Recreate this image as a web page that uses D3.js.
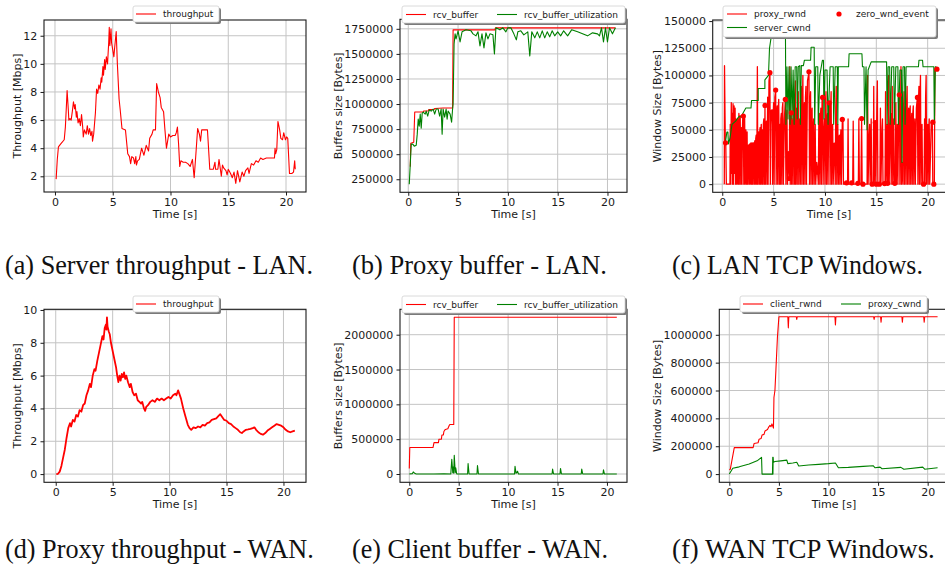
<!DOCTYPE html>
<html>
<head>
<meta charset="utf-8">
<script src="https://cdn.jsdelivr.net/npm/d3@7"></script>
<style>
  body { margin: 0; background: #fff; }
  svg { display: block; }
</style>
</head>
<body>
<svg id="fig" width="945" height="569"></svg>
<script>
// ---------- data (time in seconds) ----------
const timeTicks = [0, 5, 10, 15, 20];
const lanThroughputTicks = [2, 4, 6, 8, 10, 12];
const lanBufferTicks = [250000, 500000, 750000, 1000000, 1250000, 1500000, 1750000];
const lanWindowTicks = [0, 25000, 50000, 75000, 100000, 125000, 150000];
const wanThroughputTicks = [0, 2, 4, 6, 8, 10];
const wanBufferTicks = [0, 500000, 1000000, 1500000, 2000000];
const wanWindowTicks = [0, 200000, 400000, 600000, 800000, 1000000];

// (a) server throughput on the LAN [Mbps]
const lanThroughput = [[0.1,1.8],[0.2,3.2],[0.3,4.1],[0.5,4.3],[0.8,4.6],[0.9,5.5],[1.0,7.2],[1.05,8.1],[1.15,6.8],[1.2,6.0],[1.3,6.1],[1.4,6.0],[1.5,6.6],[1.6,7.3],[1.7,6.8],[1.75,7.1],[1.85,6.2],[1.9,6.6],[2.0,5.8],[2.1,6.1],[2.2,5.6],[2.3,6.4],[2.4,5.5],[2.45,4.8],[2.55,5.3],[2.7,5.0],[2.8,5.6],[2.9,5.0],[3.0,5.4],[3.1,4.9],[3.2,5.2],[3.25,4.5],[3.35,5.0],[3.5,6.5],[3.6,8.2],[3.7,7.9],[3.8,8.5],[3.9,8.2],[4.0,9.0],[4.05,8.7],[4.15,9.8],[4.2,9.2],[4.3,10.3],[4.35,9.6],[4.45,10.5],[4.55,10.0],[4.65,11.5],[4.7,12.6],[4.75,11.3],[4.85,12.5],[4.9,11.5],[5.0,11.0],[5.1,10.5],[5.15,11.0],[5.3,12.3],[5.4,10.0],[5.55,7.5],[5.65,6.7],[5.8,5.4],[6.1,5.3],[6.3,3.6],[6.45,3.4],[6.55,2.9],[6.65,3.4],[6.8,3.3],[6.9,2.9],[7.0,3.4],[7.05,2.8],[7.15,3.1],[7.3,3.2],[7.5,4.0],[7.7,3.5],[7.9,4.2],[8.1,3.8],[8.2,4.7],[8.4,5.0],[8.5,5.3],[8.7,5.3],[8.8,8.6],[8.95,8.0],[9.1,7.6],[9.2,6.9],[9.4,6.6],[9.5,5.5],[9.65,4.0],[9.85,5.0],[10.0,4.8],[10.2,4.9],[10.4,4.9],[10.5,5.1],[10.6,5.5],[10.7,4.3],[10.8,2.7],[10.9,3.1],[11.1,3.0],[11.3,3.0],[11.5,2.9],[11.7,2.7],[11.9,3.2],[12.05,1.9],[12.2,3.6],[12.35,5.4],[12.5,5.0],[12.6,4.5],[12.7,5.3],[13.2,5.3],[13.4,2.5],[13.7,2.5],[13.85,3.0],[13.9,2.5],[14.1,2.5],[14.2,3.2],[14.4,2.0],[14.5,2.8],[14.6,2.6],[14.8,2.4],[14.9,2.1],[15.0,2.5],[15.2,2.2],[15.35,1.9],[15.5,2.3],[15.65,1.5],[15.8,2.4],[16.0,1.6],[16.2,2.3],[16.35,2.0],[16.5,2.4],[16.7,2.6],[16.8,2.2],[17.0,2.9],[17.2,2.8],[17.4,3.1],[17.6,3.0],[17.8,3.3],[18.0,3.2],[18.3,3.3],[18.6,3.3],[19.0,3.3],[19.05,4.0],[19.1,3.6],[19.2,3.9],[19.3,5.9],[19.45,5.3],[19.55,4.7],[19.7,4.6],[19.8,5.1],[19.95,4.6],[20.05,4.8],[20.15,4.7],[20.3,2.2],[20.5,2.2],[20.65,2.3],[20.75,3.1],[20.8,2.5]];

// (b) proxy receive buffer on the LAN [Bytes]
const lanRcvBuffer = [[0.15,380000],[0.2,380000],[0.25,610000],[0.55,620000],[0.65,920000],[1.5,920000],[1.55,930000],[2.0,930000],[2.05,945000],[2.6,945000],[2.65,955000],[3.5,960000],[4.45,960000],[4.5,1740000],[8.7,1740000],[8.75,1760000],[20.8,1760000]];
const lanRcvUtilization = [[0.1,200000],[0.3,600000],[0.45,600000],[0.6,580000],[0.8,590000],[0.9,700000],[1.0,850000],[1.1,780000],[1.2,900000],[1.3,760000],[1.4,910000],[1.5,920000],[1.7,900000],[1.8,930000],[1.95,880000],[2.1,940000],[2.3,930000],[2.5,950000],[2.65,900000],[2.8,950000],[3.0,950000],[3.15,880000],[3.3,950000],[3.4,700000],[3.5,950000],[3.65,870000],[3.8,950000],[3.9,850000],[4.0,930000],[4.2,900000],[4.35,820000],[4.45,950000],[4.5,1000000],[4.6,1600000],[4.7,1700000],[4.8,1650000],[5.0,1730000],[5.2,1620000],[5.4,1720000],[5.8,1740000],[6.3,1730000],[6.5,1700000],[6.8,1680000],[7.0,1720000],[7.2,1580000],[7.4,1700000],[7.6,1560000],[7.8,1710000],[8.0,1650000],[8.2,1700000],[8.5,1690000],[8.65,1500000],[8.8,1760000],[9.2,1740000],[9.5,1760000],[9.8,1720000],[10.0,1760000],[10.3,1760000],[10.6,1700000],[10.85,1640000],[11.0,1720000],[11.3,1730000],[11.6,1690000],[12.0,1720000],[12.2,1480000],[12.4,1720000],[12.7,1660000],[12.95,1720000],[13.2,1660000],[13.45,1730000],[13.7,1660000],[13.95,1720000],[14.2,1670000],[14.45,1730000],[14.7,1680000],[15.0,1720000],[15.3,1680000],[15.6,1730000],[16.0,1680000],[16.4,1740000],[17.0,1720000],[17.5,1700000],[18.0,1680000],[18.5,1710000],[19.0,1700000],[19.2,1680000],[19.4,1760000],[19.6,1620000],[19.8,1760000],[20.0,1620000],[20.2,1760000],[20.5,1700000],[20.8,1760000]];

// (c) LAN TCP windows [Bytes]
const lanProxyRwnd = [[0.2,0],[0.22,109000],[0.25,80000],[0.3,38000],[0.34,38000],[0.4,0],[0.75,0],[0.78,55000],[0.82,0],[0.88,75000],[0.92,10000],[0.97,65000],[1.0,0],[1.05,74000],[1.1,0],[1.15,72000],[1.2,10000],[1.25,70000],[1.3,0],[1.34,60000],[1.38,55000],[1.42,0],[1.46,58000],[1.5,60000],[1.55,0],[1.58,50000],[1.62,65000],[1.66,0],[1.7,55000],[1.75,63000],[1.8,0],[1.84,45000],[1.88,52000],[1.92,0],[1.96,50000],[2.0,62000],[2.05,62000],[2.1,0],[2.14,55000],[2.18,63000],[2.22,0],[2.26,45000],[2.3,50000],[2.35,0],[2.38,40000],[2.42,48000],[2.46,0],[2.5,35000],[2.55,36000],[2.6,0],[2.64,36000],[2.68,37000],[2.72,0],[2.76,37000],[2.8,38000],[2.85,0],[2.88,36000],[2.92,38000],[2.96,0],[3.0,37000],[3.05,38000],[3.1,0],[3.14,38000],[3.18,40000],[3.22,0],[3.26,42000],[3.3,45000],[3.35,0],[3.42,108000],[3.46,0],[3.5,45000],[3.55,48000],[3.6,0],[3.64,47000],[3.68,52000],[3.72,0],[3.76,50000],[3.8,55000],[3.85,0],[3.88,45000],[3.92,50000],[3.96,0],[4.0,55000],[4.05,60000],[4.1,0],[4.16,72000],[4.2,0],[4.25,50000],[4.3,58000],[4.35,0],[4.42,80000],[4.46,0],[4.55,95000],[4.64,102000],[4.68,0],[4.73,55000],[4.78,66000],[4.87,66000],[4.9,0],[4.95,60000],[5.0,75000],[5.05,0],[5.12,80000],[5.2,86000],[5.25,0],[5.3,65000],[5.35,72000],[5.4,0],[5.45,70000],[5.5,78000],[5.55,0],[5.62,55000],[5.66,0],[5.7,60000],[5.75,65000],[5.8,0],[5.85,70000],[5.9,75000],[5.95,0],[6.05,60000],[6.14,78000],[6.2,0],[6.25,60000],[6.3,68000],[6.35,0],[6.45,30000],[6.53,5000],[6.58,108000],[6.62,0],[6.72,66000],[6.76,0],[6.8,60000],[6.85,55000],[6.9,0],[6.95,70000],[7.0,80000],[7.05,0],[7.12,95000],[7.16,0],[7.2,60000],[7.25,70000],[7.3,0],[7.35,75000],[7.4,85000],[7.45,0],[7.5,55000],[7.55,60000],[7.6,0],[7.65,80000],[7.7,90000],[7.75,0],[7.8,70000],[7.85,100000],[7.9,0],[7.95,65000],[8.0,75000],[8.05,0],[8.1,80000],[8.15,90000],[8.2,0],[8.3,95000],[8.44,103000],[8.5,0],[8.55,75000],[8.6,85000],[8.65,0],[8.7,60000],[8.75,70000],[8.8,0],[8.85,50000],[8.9,60000],[8.95,0],[9.05,55000],[9.1,0],[9.2,20000],[9.29,11000],[9.35,0],[9.4,55000],[9.45,65000],[9.5,0],[9.55,60000],[9.6,70000],[9.65,0],[9.72,80000],[9.77,80000],[9.82,0],[9.9,50000],[9.95,60000],[10.0,0],[10.05,75000],[10.1,85000],[10.15,0],[10.2,55000],[10.25,65000],[10.3,0],[10.38,74800],[10.45,74800],[10.5,0],[10.55,70000],[10.6,85000],[10.65,0],[10.7,45000],[10.75,55000],[10.8,0],[10.9,36000],[10.95,36000],[11.0,0],[11.05,70000],[11.1,90000],[11.15,0],[11.2,45000],[11.25,55000],[11.3,0],[11.35,40000],[11.4,45000],[11.45,0],[11.5,40000],[11.55,50000],[11.6,0],[11.69,59500],[11.75,59500],[11.8,0],[12.2,0],[12.25,60000],[12.3,0],[12.7,0],[12.75,58000],[12.8,0],[13.25,0],[13.3,60000],[13.35,0],[13.5,0],[13.57,60400],[13.62,0],[14.1,0],[14.15,100000],[14.2,0],[14.3,45000],[14.35,55000],[14.4,0],[14.5,60000],[14.55,0],[14.7,0],[14.75,90000],[14.8,0],[14.9,56700],[14.95,0],[15.05,70000],[15.1,95000],[15.15,0],[15.35,0],[15.4,70000],[15.45,0],[15.55,50000],[15.6,60000],[15.65,0],[15.85,0],[15.9,85000],[15.95,0],[16.05,55000],[16.1,0],[16.15,0],[16.2,100000],[16.25,0],[16.35,55000],[16.4,65000],[16.45,0],[16.55,90000],[16.6,0],[16.7,60000],[16.75,0],[16.85,0],[16.9,75000],[16.95,0],[17.05,55000],[17.1,0],[17.2,82000],[17.25,82000],[17.3,0],[17.4,108000],[17.45,0],[17.55,20000],[17.6,0],[17.65,70000],[17.7,85000],[17.75,0],[17.8,60000],[17.85,72000],[17.9,0],[17.95,75000],[18.0,90000],[18.05,0],[18.1,60000],[18.15,70000],[18.2,0],[18.25,65000],[18.3,72000],[18.35,0],[18.4,55000],[18.45,65000],[18.5,0],[18.55,65000],[18.6,72000],[18.65,0],[18.7,50000],[18.75,60000],[18.8,0],[18.9,70000],[19.0,79800],[19.05,0],[19.1,75000],[19.15,90000],[19.2,0],[19.25,80000],[19.3,100000],[19.35,0],[19.4,45000],[19.45,55000],[19.5,0],[19.65,0],[19.7,60000],[19.75,0],[19.8,80000],[19.85,100000],[19.9,0],[19.95,45000],[20.0,55000],[20.05,0],[20.1,50000],[20.15,60000],[20.2,0],[20.35,57000],[20.45,57000],[20.5,0],[20.65,0],[20.7,106000],[20.85,106000]];
const lanServerCwnd = [[0.3,38000],[0.45,48000],[0.55,48000],[0.6,37000],[0.75,42000],[0.95,55000],[1.3,58000],[1.6,62000],[1.9,62000],[2.0,65000],[2.3,70000],[2.8,70000],[2.85,77000],[3.5,77000],[3.5,88000],[4.15,88000],[4.15,96000],[4.5,100000],[4.6,125000],[4.9,144000],[6.15,144000],[6.2,55000],[6.3,108000],[6.4,60000],[6.5,108000],[6.6,55000],[6.7,108000],[6.8,60000],[6.9,105000],[7.0,55000],[7.1,108000],[7.25,108000],[7.3,60000],[7.4,108000],[7.55,109000],[7.6,55000],[7.7,109000],[7.9,109000],[8.0,114000],[8.6,114000],[8.65,126000],[8.95,126000],[9.0,55000],[9.1,108000],[9.3,108000],[9.35,55000],[9.5,100000],[9.75,114000],[9.85,114000],[9.9,60000],[10.0,105000],[10.2,105000],[10.3,55000],[10.5,108000],[10.8,108000],[10.85,55000],[11.0,108000],[11.2,108000],[11.25,55000],[11.3,108000],[12.3,108000],[12.35,120000],[13.6,120000],[13.65,108000],[13.8,108000],[13.85,55000],[14.0,108000],[14.1,50000],[14.2,105000],[14.5,112500],[16.0,112500],[16.05,55000],[16.15,108000],[16.3,108000],[16.35,55000],[16.5,108000],[16.7,108000],[16.75,55000],[16.9,108000],[17.1,108000],[17.15,55000],[17.3,105000],[17.45,105000],[17.5,20000],[17.6,108000],[17.75,108000],[17.8,55000],[17.9,108000],[19.1,108000],[19.15,114000],[19.5,114000],[19.55,108000],[20.6,108000],[20.65,55000],[20.75,108000],[20.85,108000]];
const lanZeroWndEvents = [[0.32,38000],[2.05,62600],[4.16,72400],[4.64,102500],[4.87,66600],[5.2,86500],[6.14,77900],[6.53,5200],[6.72,65600],[8.44,103400],[9.29,11000],[9.77,79800],[10.42,74800],[10.94,35900],[11.69,59500],[12.1,1200],[12.6,1200],[13.2,800],[13.57,60400],[13.7,0],[14.6,0],[14.9,56700],[15.0,0],[15.3,0],[15.8,500],[16.1,800],[16.8,800],[17.24,82200],[19.0,79800],[19.6,0],[20.5,57000],[20.6,0],[20.9,105800]];

// (d) proxy throughput on the WAN [Mbps]
const wanThroughput = [[0.05,0],[0.2,0.02],[0.35,0.15],[0.5,0.5],[0.65,1.0],[0.8,1.5],[0.95,2.2],[1.1,2.8],[1.25,3.1],[1.35,2.9],[1.5,3.3],[1.65,3.2],[1.8,3.6],[1.95,3.5],[2.1,3.9],[2.25,3.8],[2.4,4.2],[2.55,4.3],[2.7,4.8],[2.85,5.1],[3.0,5.5],[3.1,5.3],[3.25,6.0],[3.4,6.4],[3.5,6.3],[3.65,6.9],[3.8,7.4],[3.95,7.9],[4.1,8.4],[4.2,8.2],[4.3,8.9],[4.4,9.1],[4.45,8.8],[4.5,9.55],[4.55,9.0],[4.65,8.7],[4.75,8.5],[4.85,8.0],[5.0,7.5],[5.15,7.0],[5.3,6.5],[5.4,6.0],[5.5,5.6],[5.6,6.0],[5.7,5.7],[5.8,6.1],[5.9,5.9],[6.0,6.2],[6.1,5.8],[6.2,6.0],[6.35,5.6],[6.5,5.3],[6.6,5.5],[6.75,5.0],[6.9,4.8],[7.05,4.9],[7.2,4.5],[7.35,4.4],[7.5,4.3],[7.6,4.4],[7.75,4.0],[7.85,3.85],[7.95,4.1],[8.1,4.2],[8.3,4.4],[8.5,4.5],[8.7,4.4],[8.9,4.6],[9.1,4.5],[9.3,4.6],[9.5,4.5],[9.7,4.6],[9.9,4.7],[10.1,4.6],[10.3,4.8],[10.5,4.9],[10.6,4.8],[10.75,5.1],[10.85,4.9],[11.0,4.6],[11.2,4.0],[11.4,3.5],[11.6,3.0],[11.75,2.8],[11.9,2.7],[12.1,2.85],[12.3,2.8],[12.5,2.9],[12.7,2.85],[12.9,3.0],[13.1,2.95],[13.3,3.1],[13.5,3.15],[13.7,3.3],[13.9,3.35],[14.1,3.4],[14.3,3.55],[14.45,3.65],[14.6,3.5],[14.8,3.3],[15.0,3.25],[15.2,3.1],[15.4,3.05],[15.6,2.9],[15.8,2.8],[16.0,2.7],[16.2,2.55],[16.35,2.5],[16.5,2.6],[16.7,2.7],[16.9,2.72],[17.1,2.75],[17.3,2.8],[17.45,2.85],[17.6,2.7],[17.8,2.55],[18.0,2.45],[18.2,2.4],[18.4,2.5],[18.6,2.65],[18.8,2.75],[19.0,2.85],[19.2,2.95],[19.4,3.05],[19.6,3.0],[19.8,2.95],[20.0,2.85],[20.2,2.7],[20.4,2.6],[20.6,2.55],[20.8,2.6],[21.0,2.65]];

// (e) client receive buffer on the WAN [Bytes]
const wanRcvBuffer = [[0.0,80000],[0.05,380000],[2.4,380000],[2.5,450000],[2.95,450000],[3.0,500000],[3.25,500000],[3.3,560000],[3.45,560000],[3.5,610000],[3.65,640000],[3.9,650000],[4.05,700000],[4.1,710000],[4.5,710000],[4.55,2250000],[21.0,2250000]];
const wanRcvUtilization = [[0.0,0],[0.3,5000],[0.4,30000],[0.55,10000],[0.7,0],[2.5,0],[3.5,3000],[4.2,0],[4.3,210000],[4.4,20000],[4.45,100000],[4.5,10000],[4.55,270000],[4.65,20000],[4.7,90000],[4.8,0],[5.9,0],[5.95,150000],[6.05,0],[6.85,0],[6.9,120000],[7.0,0],[10.65,0],[10.7,110000],[10.8,10000],[10.95,40000],[11.05,0],[14.45,0],[14.5,70000],[14.6,0],[15.25,0],[15.3,80000],[15.4,0],[17.4,0],[17.45,70000],[17.55,0],[19.6,0],[19.65,60000],[19.75,0],[21.0,0]];

// (f) WAN TCP windows [Bytes]
const wanClientRwnd = [[0.0,30000],[0.1,35000],[0.5,190000],[2.4,190000],[2.5,220000],[2.9,225000],[3.0,250000],[3.2,255000],[3.3,280000],[3.5,285000],[3.6,310000],[3.85,320000],[3.95,335000],[4.1,350000],[4.2,340000],[4.3,360000],[4.45,330000],[4.5,550000],[4.6,600000],[4.7,750000],[4.85,980000],[5.0,1130000],[5.9,1130000],[5.95,1050000],[6.0,1130000],[6.75,1130000],[6.8,1110000],[6.85,1130000],[10.65,1130000],[10.7,1070000],[10.75,1130000],[14.55,1130000],[14.6,1110000],[14.65,1130000],[15.25,1130000],[15.3,1090000],[15.35,1130000],[17.4,1130000],[17.45,1090000],[17.5,1130000],[19.6,1130000],[19.65,1090000],[19.7,1130000],[21.0,1130000]];
const wanProxyCwnd = [[0.0,0],[0.35,42000],[1.0,52000],[2.0,72000],[2.8,95000],[3.25,120000],[3.3,0],[4.35,0],[4.38,120000],[4.4,0],[4.42,120000],[4.45,85000],[4.6,90000],[5.2,95000],[5.8,100000],[5.9,75000],[6.4,80000],[6.8,85000],[7.0,58000],[8.0,65000],[9.0,70000],[10.0,75000],[10.7,80000],[11.0,45000],[12.0,48000],[13.5,55000],[14.5,60000],[14.7,45000],[15.2,50000],[15.4,38000],[17.3,48000],[17.6,35000],[19.5,50000],[19.7,35000],[21.0,45000]];

const captions = ["(a) Server throughput - LAN.", "(b) Proxy buffer - LAN.", "(c) LAN TCP Windows.",
                  "(d) Proxy throughput - WAN.", "(e) Client buffer - WAN.", "(f) WAN TCP Windows."];

// ---------- layout ----------
const RED = "#ff0000", GREEN = "#008000";
const FONT = "'DejaVu Sans', sans-serif";

const panels = [
  { box: {l: 44, r: 306, t: 20, b: 192}, xd: [-0.95, 21.73], yd: [0.883, 13.12], yt: lanThroughputTicks,
    ylabel: "Throughput [Mbps]", ylx: 17, xlx: 175,
    series: [{data: lanThroughput, color: RED}],
    legend: {x: 133, y: 6, w: 86, h: 16, items: [{kind: "line", color: RED, label: "throughput", hx: 136, ty: 14}]} },
  { box: {l: 400, r: 627, t: 19.3, b: 192.3}, xd: [-0.83, 21.96], yd: [120000, 1845000], yt: lanBufferTicks,
    ylabel: "Buffers size [Bytes]", ylx: 338, xlx: 513.5,
    series: [{data: lanRcvBuffer, color: RED}, {data: lanRcvUtilization, color: GREEN}],
    legend: {x: 402, y: 6, w: 223, h: 17, items: [
      {kind: "line", color: RED, label: "rcv_buffer", hx: 406, ty: 14.5},
      {kind: "line", color: GREEN, label: "rcv_buffer_utilization", hx: 497, ty: 14.5}]} },
  { box: {l: 712.7, r: 947.6, t: 20, b: 192.3}, xd: [-0.93, 21.94], yd: [-7500, 151000], yt: lanWindowTicks,
    ylabel: "Window Size [Bytes]", ylx: 657, xlx: 829,
    series: [{data: lanProxyRwnd, color: RED, width: 1.3}, {data: lanServerCwnd, color: GREEN}],
    dots: {data: lanZeroWndEvents, color: RED},
    legend: {x: 723, y: 6, w: 213, h: 31, items: [
      {kind: "line", color: RED, label: "proxy_rwnd", hx: 727, ty: 14},
      {kind: "line", color: GREEN, label: "server_cwnd", hx: 727, ty: 27.5},
      {kind: "dot", color: RED, label: "zero_wnd_event", hx: 829, ty: 14}]} },
  { box: {l: 44, r: 306, t: 309.3, b: 482.3}, xd: [-1.03, 21.98], yd: [-0.5, 10.04], yt: wanThroughputTicks,
    ylabel: "Throughput [Mbps]", ylx: 17, xlx: 175,
    series: [{data: wanThroughput, color: RED, width: 1.8}],
    legend: {x: 133, y: 296, w: 86, h: 16, items: [{kind: "line", color: RED, label: "throughput", hx: 136, ty: 304}]} },
  { box: {l: 400, r: 627, t: 309.3, b: 482.3}, xd: [-0.94, 22.03], yd: [-119000, 2364700], yt: wanBufferTicks,
    ylabel: "Buffers size [Bytes]", ylx: 338, xlx: 513.5,
    series: [{data: wanRcvBuffer, color: RED}, {data: wanRcvUtilization, color: GREEN}],
    legend: {x: 402, y: 296, w: 223, h: 17, items: [
      {kind: "line", color: RED, label: "rcv_buffer", hx: 406, ty: 304.5},
      {kind: "line", color: GREEN, label: "rcv_buffer_utilization", hx: 497, ty: 304.5}]} },
  { box: {l: 719.3, r: 948, t: 309.3, b: 482.3}, xd: [-1.01, 22.05], yd: [-59000, 1183000], yt: wanWindowTicks,
    ylabel: "Window Size [Bytes]", ylx: 657, xlx: 834,
    series: [{data: wanClientRwnd, color: RED}, {data: wanProxyCwnd, color: GREEN}],
    legend: {x: 740, y: 296, w: 187, h: 16, items: [
      {kind: "line", color: RED, label: "client_rwnd", hx: 743, ty: 304},
      {kind: "line", color: GREEN, label: "proxy_cwnd", hx: 841, ty: 304}]} }
];

const captionPos = [
  {x: 5, y: 273.5, w: 308, size: 27}, {x: 352, y: 273.5, w: 255, size: 27}, {x: 672, y: 273.5, w: 251, size: 27},
  {x: 5, y: 558, w: 309, size: 28}, {x: 352, y: 558, w: 256, size: 28}, {x: 672, y: 558, w: 263, size: 28}
];

const svg = d3.select("#fig");
svg.append("rect").attr("width", 945).attr("height", 569).attr("fill", "#fff");

panels.forEach((p, i) => {
  const {l, r, t, b} = p.box;
  const x = d3.scaleLinear().domain(p.xd).range([l, r]);
  const y = d3.scaleLinear().domain(p.yd).range([b, t]);
  const g = svg.append("g");

  const clipId = "clip" + i;
  svg.append("clipPath").attr("id", clipId)
    .append("rect").attr("x", l).attr("y", t).attr("width", r - l).attr("height", b - t);

  // grid
  const grid = g.append("g").attr("stroke", "#c4c4c4").attr("stroke-width", 1);
  grid.selectAll(".gx").data(timeTicks).join("line")
    .attr("x1", d => x(d)).attr("x2", d => x(d)).attr("y1", t).attr("y2", b);
  grid.selectAll(".gy").data(p.yt).join("line")
    .attr("x1", l).attr("x2", r).attr("y1", d => y(d)).attr("y2", d => y(d));

  // series
  const line = d3.line().x(d => x(d[0])).y(d => y(d[1]));
  const plot = g.append("g").attr("clip-path", `url(#${clipId})`);
  p.series.forEach(s => {
    plot.append("path").datum(s.data)
      .attr("fill", "none").attr("stroke", s.color)
      .attr("stroke-width", s.width || 1.1)
      .attr("stroke-linejoin", "round")
      .attr("d", line);
  });
  if (p.dots) {
    plot.selectAll(".dot").data(p.dots.data).join("circle")
      .attr("cx", d => x(d[0])).attr("cy", d => y(d[1])).attr("r", 2.6)
      .attr("fill", p.dots.color);
  }

  // frame
  g.append("rect").attr("x", l).attr("y", t).attr("width", r - l).attr("height", b - t)
    .attr("fill", "none").attr("stroke", "#1a1a1a").attr("stroke-width", 1.1);

  // axes
  const ax = g.append("g").attr("transform", `translate(0,${b})`)
    .call(d3.axisBottom(x).tickValues(timeTicks).tickSize(3.5).tickPadding(2.5).tickFormat(d3.format("d")));
  const ay = g.append("g").attr("transform", `translate(${l},0)`)
    .call(d3.axisLeft(y).tickValues(p.yt).tickSize(3.5).tickPadding(3.2).tickFormat(d3.format("d")));
  [ax, ay].forEach(a => {
    a.select(".domain").remove();
    a.attr("font-family", FONT).attr("font-size", 11);
    a.selectAll("line").attr("stroke", "#1a1a1a");
    a.selectAll("text").attr("fill", "#1a1a1a");
  });

  // axis labels
  g.append("text").attr("x", p.xlx).attr("y", b + 25.5)
    .attr("text-anchor", "middle").attr("font-family", FONT).attr("font-size", 11)
    .attr("fill", "#1a1a1a").text("Time [s]");
  g.append("text").attr("transform", `translate(${p.ylx},${(t + b) / 2}) rotate(-90)`)
    .attr("text-anchor", "middle").attr("dominant-baseline", "central")
    .attr("font-family", FONT).attr("font-size", 11).attr("fill", "#1a1a1a").text(p.ylabel);

  // legend with drop shadow
  const L = p.legend;
  const lg = svg.append("g");
  lg.append("rect").attr("x", L.x + 2).attr("y", L.y + 2).attr("width", L.w).attr("height", L.h)
    .attr("rx", 2).attr("fill", "#7a7a7a");
  lg.append("rect").attr("x", L.x).attr("y", L.y).attr("width", L.w).attr("height", L.h)
    .attr("rx", 2).attr("fill", "#fff").attr("stroke", "#d0d0d0").attr("stroke-width", 0.8);
  L.items.forEach(it => {
    if (it.kind === "line") {
      lg.append("line").attr("x1", it.hx).attr("x2", it.hx + 20).attr("y1", it.ty).attr("y2", it.ty)
        .attr("stroke", it.color).attr("stroke-width", 1.1);
    } else {
      lg.append("circle").attr("cx", it.hx + 10).attr("cy", it.ty).attr("r", 2.6).attr("fill", it.color);
    }
    lg.append("text").attr("x", it.hx + 27).attr("y", it.ty).attr("dominant-baseline", "central")
      .attr("font-family", FONT).attr("font-size", 9).attr("fill", "#1a1a1a").text(it.label);
  });
});

// sub-figure captions, horizontally scaled to their set widths
captions.forEach((c, i) => {
  const cp = captionPos[i];
  const tx = svg.append("text")
    .attr("font-family", "'Liberation Serif', 'Times New Roman', serif")
    .attr("font-size", cp.size).attr("fill", "#111").text(c);
  const natural = tx.node().getComputedTextLength();
  tx.attr("transform", `translate(${cp.x},${cp.y}) scale(${cp.w / natural},1)`);
});
</script>
</body>
</html>
